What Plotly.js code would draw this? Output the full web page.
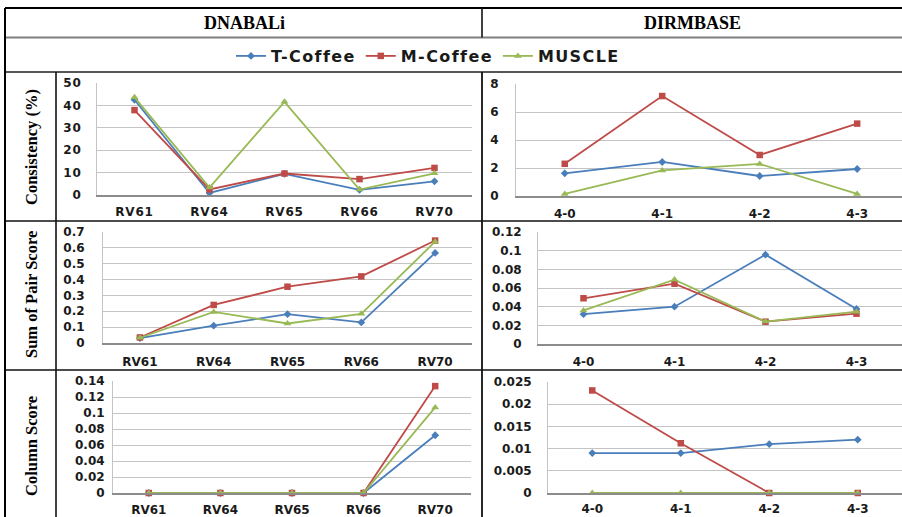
<!DOCTYPE html>
<html><head><meta charset="utf-8">
<script src="https://cdn.plot.ly/plotly-3.0.1.min.js"></script>
<style>
html,body{margin:0;padding:0;background:#fff;}
.xtick text, .ytick text {letter-spacing: 0.8px;}
.legendtext {letter-spacing: 1.4px;}
</style>
</head><body><div id="chart" style="width:902px;height:517px;"></div>
<script>
// ---- data ----
const seriesNames = ['T-Coffee', 'M-Coffee', 'MUSCLE'];
const dnabaliCats = ['RV61', 'RV64', 'RV65', 'RV66', 'RV70'];
const dirmbaseCats = ['4-0', '4-1', '4-2', '4-3'];

const dnabaliConsT = [42.5, 0.9, 9.4, 2.3, 6.1];
const dnabaliConsM = [37.9, 2.5, 9.6, 7.1, 12.1];
const dnabaliConsU = [43.6, 3.3, 41.6, 2.4, 9.7];

const dirmbaseConsT = [1.62, 2.43, 1.43, 1.93];
const dirmbaseConsM = [2.30, 7.14, 2.93, 5.17];
const dirmbaseConsU = [0.15, 1.83, 2.29, 0.15];

const dnabaliSpT = [0.031, 0.109, 0.182, 0.130, 0.568];
const dnabaliSpM = [0.035, 0.240, 0.355, 0.420, 0.646];
const dnabaliSpU = [0.033, 0.196, 0.123, 0.184, 0.639];

const dirmbaseSpT = [0.032, 0.040, 0.0957, 0.0375];
const dirmbaseSpM = [0.049, 0.0646, 0.0239, 0.0325];
const dirmbaseSpU = [0.036, 0.069, 0.024, 0.0346];

const dnabaliColT = [0, 0, 0, 0, 0.0722];
const dnabaliColM = [0, 0, 0, 0, 0.1336];
const dnabaliColU = [0, 0, 0, 0, 0.107];

const dirmbaseColT = [0.009, 0.009, 0.011, 0.012];
const dirmbaseColM = [0.0231, 0.0112, 0, 0];
const dirmbaseColU = [0, 0, 0, 0];

const headerLabels = ['DNABALi', 'DIRMBASE'];
const rowLabels = ['Consistency (%)', 'Sum of Pair Score', 'Column Score'];

// ---- styling ----
const W = 902, H = 517;
const px = x => x / W;
const py = y => 1 - y / H;
const colors = ['#4a7ebb', '#be4b48', '#98b954'];
const symbols = ['diamond', 'square', 'triangle-up'];
const msizes = [6, 6.5, 7];
const tickFont = {family: 'DejaVu Sans, Verdana, sans-serif', size: 12, weight: 'bold', color: '#1a1a1a'};

const panels = [
  {cats: dnabaliCats, data: [dnabaliConsT, dnabaliConsM, dnabaliConsU], x0: 97, x1: 472, y0: 83, y1: 195, range: [0, 50], dtick: 10, ystand: 12, xstand: 5},
  {cats: dirmbaseCats, data: [dirmbaseConsT, dirmbaseConsM, dirmbaseConsU], x0: 516, x1: 902, y0: 84, y1: 196, range: [0, 8], dtick: 2, ystand: 14, xstand: 6, xr: [-0.5, 3.46]},
  {cats: dnabaliCats, data: [dnabaliSpT, dnabaliSpM, dnabaliSpU], x0: 103, x1: 472, y0: 232, y1: 343, range: [0, 0.7], dtick: 0.1, ystand: 15, xstand: 7},
  {cats: dirmbaseCats, data: [dirmbaseSpT, dirmbaseSpM, dirmbaseSpU], x0: 538, x1: 902, y0: 232, y1: 344, range: [0, 0.12], dtick: 0.02, ystand: 13, xstand: 6},
  {cats: dnabaliCats, data: [dnabaliColT, dnabaliColM, dnabaliColU], x0: 113, x1: 471, y0: 381, y1: 493, range: [0, 0.14], dtick: 0.02, ystand: 5, xstand: 5},
  {cats: dirmbaseCats, data: [dirmbaseColT, dirmbaseColM, dirmbaseColU], x0: 548, x1: 902, y0: 382, y1: 493, range: [0, 0.025], dtick: 0.005, ystand: 13, xstand: 4}
];

const traces = [];
const layout = {
  width: W, height: H,
  margin: {l: 0, r: 0, t: 0, b: 0},
  paper_bgcolor: '#ffffff', plot_bgcolor: 'rgba(0,0,0,0)',
  showlegend: true,
  legend: {orientation: 'h', x: px(428), xanchor: 'center', y: py(56), yanchor: 'middle',
           font: {family: 'DejaVu Sans, Verdana, sans-serif', size: 16, weight: 'bold', color: '#1a1a1a'},
           itemwidth: 30, tracegroupgap: 0, bgcolor: 'rgba(0,0,0,0)'},
  shapes: [], annotations: []
};

panels.forEach((p, i) => {
  const n = i + 1;
  const xa = 'x' + (n === 1 ? '' : n), ya = 'y' + (n === 1 ? '' : n);
  p.data.forEach((vals, s) => {
    traces.push({
      type: 'scatter', mode: 'lines+markers', x: p.cats, y: vals,
      name: seriesNames[s], xaxis: xa, yaxis: ya, showlegend: i === 0,
      legendgroup: seriesNames[s], cliponaxis: false,
      line: {color: colors[s], width: 1.8},
      marker: {symbol: symbols[s], size: msizes[s], color: colors[s]}
    });
  });
  const xk = 'xaxis' + (n === 1 ? '' : n), yk = 'yaxis' + (n === 1 ? '' : n);
  layout[xk] = {
    domain: [px(p.x0), Math.min(1, px(p.x1))], anchor: ya, type: 'category',
    range: p.xr || [-0.5, p.cats.length - 0.5], fixedrange: true,
    showgrid: false, zeroline: false, showline: true, linecolor: '#8c8c8c', linewidth: 1.5,
    ticks: '', ticklabelstandoff: p.xstand, tickfont: tickFont
  };
  layout[yk] = {
    domain: [py(p.y1), py(p.y0)], anchor: xa, range: p.range, dtick: p.dtick, tick0: 0,
    fixedrange: true, showgrid: true, gridcolor: '#c4c4c4', gridwidth: 1,
    zeroline: false, showline: true, linecolor: '#c4c4c4', linewidth: 1,
    ticks: '', ticklabelstandoff: p.ystand, tickfont: tickFont
  };
});

// table lines
function hline(y, x0, x1, color, w) {
  layout.shapes.push({type: 'line', xref: 'paper', yref: 'paper', x0: px(x0), x1: px(x1), y0: py(y), y1: py(y), line: {color: color, width: w}});
}
function vline(x, y0, y1, color, w) {
  layout.shapes.push({type: 'line', xref: 'paper', yref: 'paper', x0: px(x), x1: px(x), y0: py(y0), y1: py(y1), line: {color: color, width: w}});
}
hline(8, 5, 902, '#000000', 2.2);
hline(37.5, 5, 902, '#7f7f7f', 2);
hline(72, 5, 902, '#555555', 2);
hline(221, 5, 902, '#111111', 1.6);
hline(370, 5, 902, '#111111', 1.6);
vline(5, 8, 517, '#000000', 2);
vline(482, 8, 37.5, '#111111', 1.6);
vline(482, 72, 517, '#111111', 1.8);
vline(56, 72, 517, '#111111', 1.6);

// headers
const headerX = [244, 692];
headerLabels.forEach((t, k) => {
  layout.annotations.push({text: t, xref: 'paper', yref: 'paper', x: px(headerX[k]), y: py(22.5),
    xanchor: 'center', yanchor: 'middle', showarrow: false,
    font: {family: 'Liberation Serif, Times New Roman, serif', size: 18, weight: 'bold', color: '#000'}});
});
const rowY = [147, 295, 446];
rowLabels.forEach((t, k) => {
  layout.annotations.push({text: t, xref: 'paper', yref: 'paper', x: px(31), y: py(rowY[k]),
    xanchor: 'center', yanchor: 'middle', showarrow: false, textangle: -90,
    font: {family: 'Liberation Serif, Times New Roman, serif', size: 16.5, weight: 'bold', color: '#000'}});
});

Plotly.newPlot('chart', traces, layout, {staticPlot: true, displayModeBar: false});
</script>
</body></html>
